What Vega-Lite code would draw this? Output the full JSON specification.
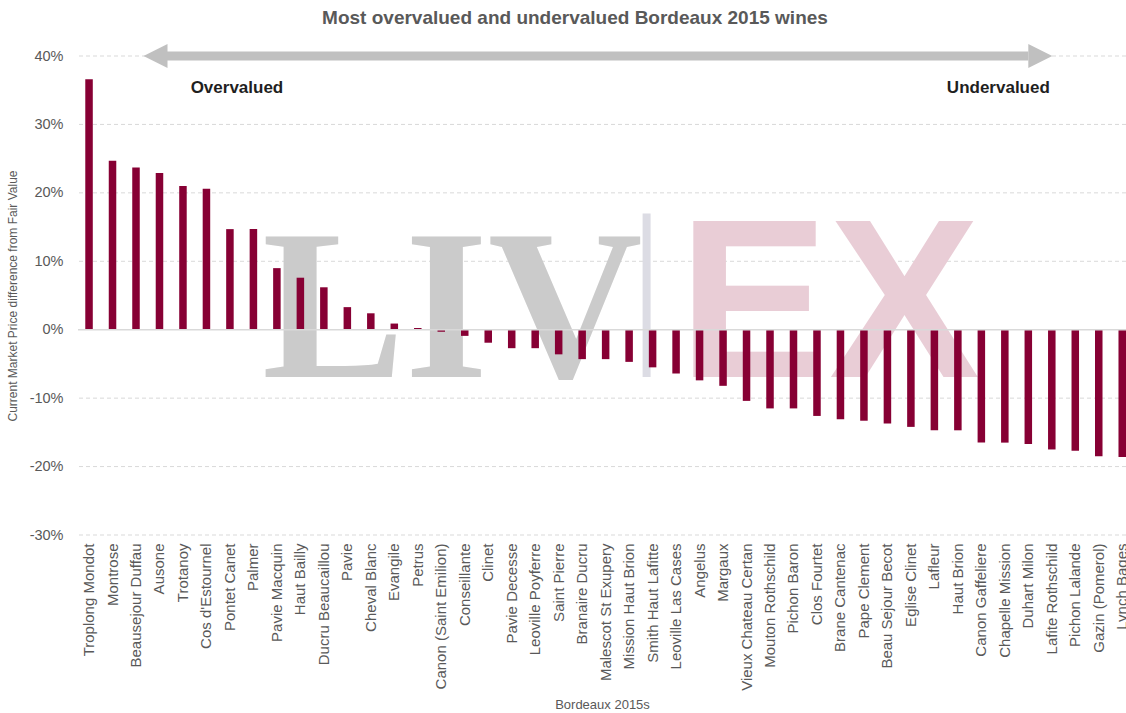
{
  "$schema": "https://vega.github.io/schema/vega-lite/v6.json",
  "description": "Most overvalued and undervalued Bordeaux 2015 wines",
  "autosize": "none",
  "padding": {"left": 78, "top": 56, "right": 0, "bottom": 178},
  "width": 1048,
  "height": 479,
  "config": {"font": "Liberation Sans", "view": {"stroke": null}},
  "title": {
    "text": "Most overvalued and undervalued Bordeaux 2015 wines",
    "fontSize": 19, "fontWeight": "bold", "color": "#595959",
    "anchor": "middle", "dx": -27, "offset": 16
  },
  "datasets": {
    "wines": [
      {"wine": "Troplong Mondot", "diff": 36.6},
      {"wine": "Montrose", "diff": 24.7},
      {"wine": "Beausejour Duffau", "diff": 23.7},
      {"wine": "Ausone", "diff": 22.9},
      {"wine": "Trotanoy", "diff": 21.0},
      {"wine": "Cos d'Estournel", "diff": 20.6},
      {"wine": "Pontet Canet", "diff": 14.7},
      {"wine": "Palmer", "diff": 14.7},
      {"wine": "Pavie Macquin", "diff": 9.0},
      {"wine": "Haut Bailly", "diff": 7.6},
      {"wine": "Ducru Beaucaillou", "diff": 6.2},
      {"wine": "Pavie", "diff": 3.3},
      {"wine": "Cheval Blanc", "diff": 2.4},
      {"wine": "Evangile", "diff": 0.9},
      {"wine": "Petrus", "diff": 0.25},
      {"wine": "Canon (Saint Emilion)", "diff": -0.3},
      {"wine": "Conseillante", "diff": -0.9},
      {"wine": "Clinet", "diff": -1.9},
      {"wine": "Pavie Decesse", "diff": -2.7},
      {"wine": "Leoville Poyferre", "diff": -2.7},
      {"wine": "Saint Pierre", "diff": -3.6},
      {"wine": "Branaire Ducru", "diff": -4.3},
      {"wine": "Malescot St Exupery", "diff": -4.3},
      {"wine": "Mission Haut Brion", "diff": -4.7},
      {"wine": "Smith Haut Lafitte", "diff": -5.5},
      {"wine": "Leoville Las Cases", "diff": -6.4},
      {"wine": "Angelus", "diff": -7.4},
      {"wine": "Margaux", "diff": -8.2},
      {"wine": "Vieux Chateau Certan", "diff": -10.4},
      {"wine": "Mouton Rothschild", "diff": -11.5},
      {"wine": "Pichon Baron", "diff": -11.5},
      {"wine": "Clos Fourtet", "diff": -12.6},
      {"wine": "Brane Cantenac", "diff": -13.1},
      {"wine": "Pape Clement", "diff": -13.3},
      {"wine": "Beau Sejour Becot", "diff": -13.7},
      {"wine": "Eglise Clinet", "diff": -14.2},
      {"wine": "Lafleur", "diff": -14.7},
      {"wine": "Haut Brion", "diff": -14.7},
      {"wine": "Canon Gaffeliere", "diff": -16.5},
      {"wine": "Chapelle Mission", "diff": -16.5},
      {"wine": "Duhart Milon", "diff": -16.7},
      {"wine": "Lafite Rothschild", "diff": -17.5},
      {"wine": "Pichon Lalande", "diff": -17.7},
      {"wine": "Gazin (Pomerol)", "diff": -18.5},
      {"wine": "Lynch Bages", "diff": -18.6}
    ],
    "grid": [
      {"v": -30}, {"v": -20}, {"v": -10}, {"v": 10}, {"v": 20}, {"v": 30}, {"v": 40}
    ]
  },
  "layer": [
    {
      "data": {"name": "grid"},
      "mark": {"type": "rule", "color": "#d9d9d9", "strokeWidth": 1, "strokeDash": [4, 3]},
      "encoding": {"y": {"field": "v", "type": "quantitative"}}
    },
    {
      "data": {"values": [{}]},
      "mark": {"type": "text", "text": "LIV", "font": "Liberation Serif", "fontWeight": "bold",
               "fontSize": 214, "color": "#cbcbcb", "align": "center", "baseline": "alphabetic", "dx": 11},
      "encoding": {"x": {"datum": "Canon (Saint Emilion)"}, "y": {"datum": -6.9}}
    },
    {
      "data": {"values": [{}]},
      "mark": {"type": "rule", "color": "#dcdce4", "strokeWidth": 8, "xOffset": -6},
      "encoding": {"x": {"datum": "Smith Haut Lafitte"}, "y": {"datum": 17}, "y2": {"datum": -6.9}}
    },
    {
      "data": {"values": [{}]},
      "mark": {"type": "text", "text": "EX", "font": "Liberation Sans, Arial, sans-serif", "fontWeight": "bold",
               "fontSize": 226, "color": "#e9cdd6", "align": "center", "baseline": "alphabetic", "dx": 12},
      "encoding": {"x": {"datum": "Clos Fourtet"}, "y": {"datum": -6.9}}
    },
    {
      "data": {"name": "wines"},
      "mark": {"type": "bar", "color": "#870034"},
      "encoding": {
        "x": {
          "field": "wine", "type": "nominal",
          "scale": {
            "domain": ["Troplong Mondot", "Montrose", "Beausejour Duffau", "Ausone", "Trotanoy", "Cos d'Estournel", "Pontet Canet", "Palmer", "Pavie Macquin", "Haut Bailly", "Ducru Beaucaillou", "Pavie", "Cheval Blanc", "Evangile", "Petrus", "Canon (Saint Emilion)", "Conseillante", "Clinet", "Pavie Decesse", "Leoville Poyferre", "Saint Pierre", "Branaire Ducru", "Malescot St Exupery", "Mission Haut Brion", "Smith Haut Lafitte", "Leoville Las Cases", "Angelus", "Margaux", "Vieux Chateau Certan", "Mouton Rothschild", "Pichon Baron", "Clos Fourtet", "Brane Cantenac", "Pape Clement", "Beau Sejour Becot", "Eglise Clinet", "Lafleur", "Haut Brion", "Canon Gaffeliere", "Chapelle Mission", "Duhart Milon", "Lafite Rothschild", "Pichon Lalande", "Gazin (Pomerol)", "Lynch Bages"],
            "paddingInner": 0.68, "paddingOuter": 0.155, "align": 1
          },
          "axis": {
            "title": "Bordeaux 2015s", "titleFontSize": 13, "titleFontWeight": "normal",
            "titleColor": "#595959", "titlePadding": 8,
            "labelAngle": -90, "labelFontSize": 15, "labelColor": "#595959",
            "labelPadding": 8, "ticks": false, "domain": false, "grid": false
          }
        },
        "y": {
          "field": "diff", "type": "quantitative",
          "scale": {"domain": [-30, 40], "nice": false, "zero": false},
          "axis": {
            "title": "Current Market Price difference from Fair Value",
            "titleFontSize": 12, "titleFontWeight": "normal", "titleColor": "#595959",
            "titlePadding": 10,
            "values": [-30, -20, -10, 0, 10, 20, 30, 40],
            "labelExpr": "datum.value + '%'",
            "labelFontSize": 14.5, "labelColor": "#595959", "labelPadding": 15,
            "ticks": false, "domain": false, "grid": false
          }
        }
      }
    },
    {
      "data": {"values": [{}]},
      "mark": {"type": "rule", "color": "#d9d9d9", "strokeWidth": 1.5},
      "encoding": {"y": {"datum": 0}}
    },
    {
      "data": {"values": [{}]},
      "mark": {"type": "rule", "color": "#c0c0c0", "strokeWidth": 9},
      "encoding": {"x": {"datum": "Ausone"}, "x2": {"datum": "Duhart Milon"}, "y": {"datum": 40}}
    },
    {
      "data": {"values": [{}]},
      "mark": {"type": "point", "shape": "M1,-1L-1,0L1,1Z", "size": 576, "filled": true,
               "color": "#c0c0c0", "opacity": 1, "xOffset": -4},
      "encoding": {"x": {"datum": "Ausone"}, "y": {"datum": 40}}
    },
    {
      "data": {"values": [{}]},
      "mark": {"type": "point", "shape": "M-1,-1L1,0L-1,1Z", "size": 576, "filled": true,
               "color": "#c0c0c0", "opacity": 1, "xOffset": 12},
      "encoding": {"x": {"datum": "Duhart Milon"}, "y": {"datum": 40}}
    },
    {
      "data": {"values": [{}]},
      "mark": {"type": "text", "text": "Overvalued", "fontSize": 17, "fontWeight": "bold",
               "color": "#1f1f1f", "align": "center", "baseline": "middle", "dx": 7},
      "encoding": {"x": {"datum": "Pontet Canet"}, "y": {"datum": 35.3}}
    },
    {
      "data": {"values": [{}]},
      "mark": {"type": "text", "text": "Undervalued", "fontSize": 17, "fontWeight": "bold",
               "color": "#1f1f1f", "align": "center", "baseline": "middle", "dx": 17},
      "encoding": {"x": {"datum": "Canon Gaffeliere"}, "y": {"datum": 35.3}}
    }
  ]
}
